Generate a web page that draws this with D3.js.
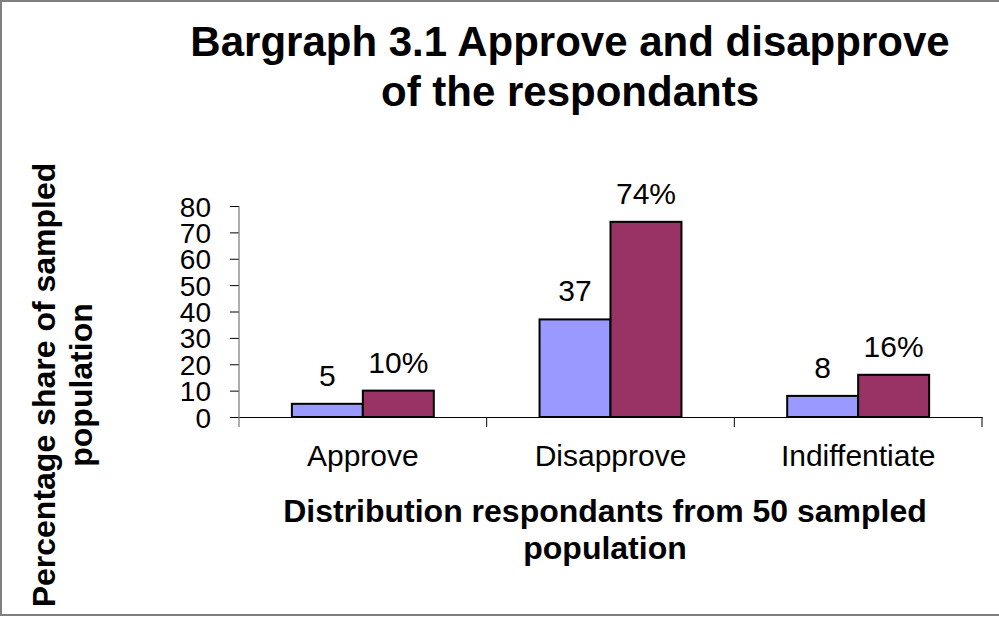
<!DOCTYPE html>
<html>
<head>
<meta charset="utf-8">
<script src="https://cdn.jsdelivr.net/npm/d3@7/dist/d3.min.js"></script>
<style>
  html, body { margin: 0; padding: 0; background: #fff; }
  svg { display: block; }
  text { font-family: "Liberation Sans", Arial, Helvetica, sans-serif; fill: #000; }
</style>
</head>
<body>
<svg id="chart" width="999" height="617"></svg>
<script>
// ---- data ----
const categories = ["Approve", "Disapprove", "Indiffentiate"];
const seriesNames = ["Respondants", "Percentage"];
const countValues = [5, 37, 8];
const percentValues = [10, 74, 16];
const yTicks = [0, 10, 20, 30, 40, 50, 60, 70, 80];
const titleLines = ["Bargraph 3.1 Approve and disapprove", "of the respondants"];
const xTitleLines = ["Distribution respondants from 50 sampled", "population"];
const yTitleLines = ["Percentage share of sampled", "population"];
const seriesColors = ["#9999FF", "#993366"];

// ---- layout ----
const svg = d3.select("#chart");
const W = 999, H = 617;
const plot = { left: 239, right: 982, top: 206, bottom: 417 };

// border
svg.append("rect")
  .attr("x", 1).attr("y", 1).attr("width", W + 10).attr("height", 614)
  .attr("fill", "none").attr("stroke", "#808080").attr("stroke-width", 2);

const x = d3.scaleBand().domain(categories).range([plot.left, plot.right]).paddingInner(0).paddingOuter(0);
const xs = d3.scaleBand().domain(seriesNames).range([0, x.bandwidth()]).paddingInner(0).paddingOuter(0.745);
const y = d3.scaleLinear().domain([0, 80]).range([plot.bottom, plot.top]);

const rows = categories.map((c, i) => ({ cat: c, vals: [
  { s: seriesNames[0], v: countValues[i], label: String(countValues[i]), color: seriesColors[0] },
  { s: seriesNames[1], v: percentValues[i], label: percentValues[i] + "%", color: seriesColors[1] }
]}));

// y axis
const yAxis = d3.axisLeft(y).tickValues(yTicks).tickSize(9).tickPadding(19).tickSizeOuter(0);
const gy = svg.append("g").attr("transform", `translate(${plot.left},0)`).call(yAxis);
gy.select(".domain").remove();
gy.selectAll(".tick line").attr("stroke", "#000").attr("stroke-width", 1);
gy.selectAll(".tick text").attr("font-size", 28).attr("dy", "0.36em")
  .style("font-family", '"Liberation Sans", Arial, sans-serif').attr("fill", "#000");
svg.append("line").attr("x1", plot.left).attr("x2", plot.left)
  .attr("y1", y(80)).attr("y2", plot.bottom + 10).attr("stroke", "#777").attr("stroke-width", 1.2);

// bars
const groups = svg.append("g").selectAll("g").data(rows).join("g")
  .attr("transform", d => `translate(${x(d.cat)},0)`);
groups.selectAll("rect").data(d => d.vals).join("rect")
  .attr("x", d => xs(d.s)).attr("width", xs.bandwidth())
  .attr("y", d => y(d.v)).attr("height", d => y(0) - y(d.v))
  .attr("fill", d => d.color).attr("stroke", "#000").attr("stroke-width", 2);
groups.selectAll("text.val").data(d => d.vals).join("text").attr("class", "val")
  .attr("x", d => xs(d.s) + xs.bandwidth() / 2)
  .attr("y", d => y(d.v) - 18)
  .attr("text-anchor", "middle").attr("font-size", 30)
  .text(d => d.label);

// x axis
const xAxis = d3.axisBottom(x).tickSize(0).tickPadding(0);
const gx = svg.append("g").attr("transform", `translate(0,${plot.bottom})`).call(xAxis);
gx.select(".domain").attr("stroke", "#000").attr("stroke-width", 1.2);
gx.selectAll(".tick text").attr("font-size", 30).attr("dy", 0).attr("y", 49)
  .style("font-family", '"Liberation Sans", Arial, sans-serif').attr("fill", "#000");
svg.append("g").selectAll("line").data(categories).join("line")
  .attr("x1", d => x(d) + x.bandwidth()).attr("x2", d => x(d) + x.bandwidth())
  .attr("y1", plot.bottom).attr("y2", plot.bottom + 10)
  .attr("stroke", "#000").attr("stroke-width", 1);

// title
svg.append("g").selectAll("text").data(titleLines).join("text")
  .attr("x", 570).attr("y", (d, i) => 56 + i * 50)
  .attr("text-anchor", "middle").attr("font-size", 42).attr("font-weight", "bold")
  .text(d => d);

// x title
svg.append("g").selectAll("text").data(xTitleLines).join("text")
  .attr("x", 605).attr("y", (d, i) => 522 + i * 37)
  .attr("text-anchor", "middle").attr("font-size", 32).attr("font-weight", "bold")
  .text(d => d);

// y title
svg.append("g").selectAll("text").data(yTitleLines).join("text")
  .attr("transform", (d, i) => `translate(${55 + i * 37},385) rotate(-90)`)
  .attr("text-anchor", "middle").attr("font-size", 32).attr("font-weight", "bold")
  .text(d => d);
</script>
</body>
</html>
